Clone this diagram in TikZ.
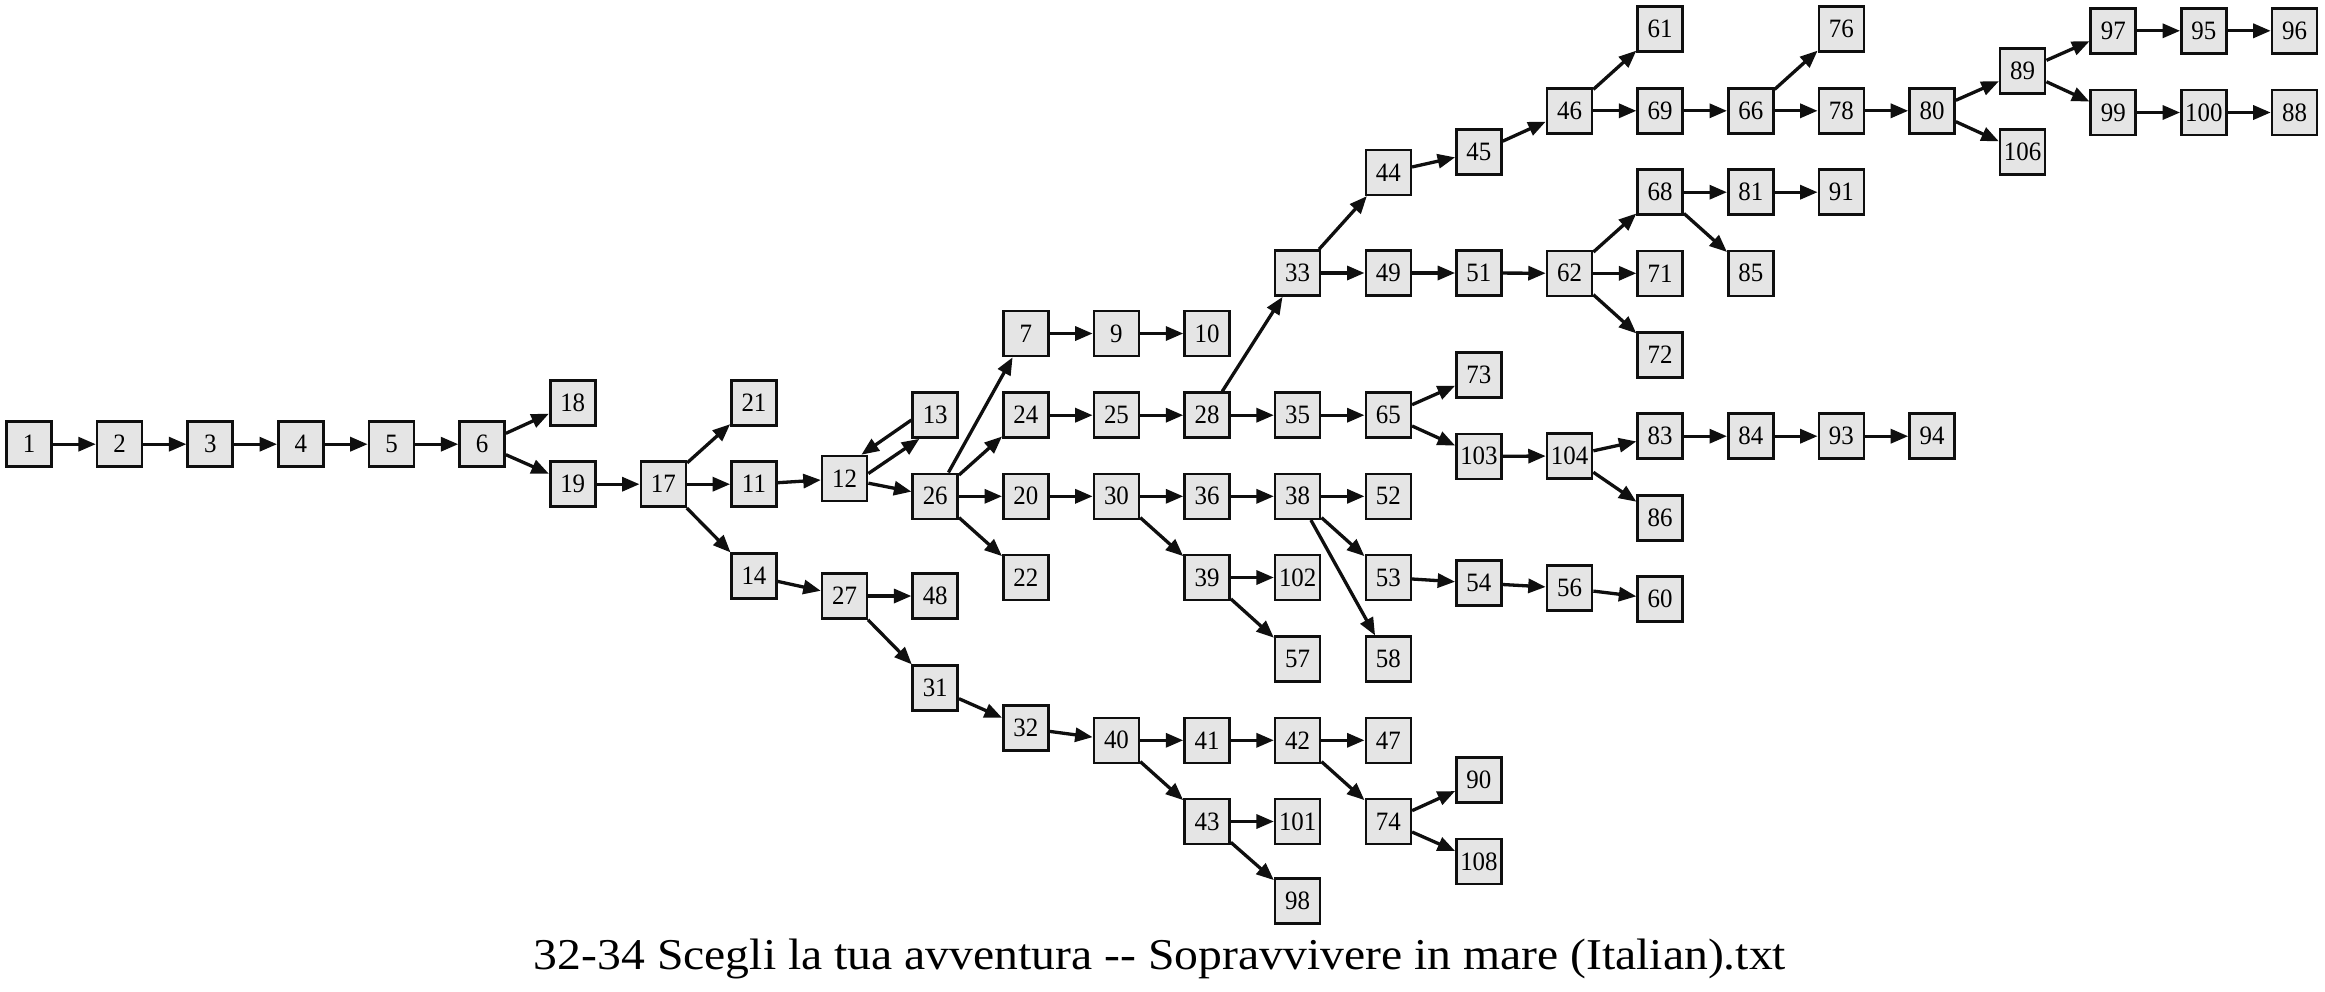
\documentclass[tikz,border=0pt]{standalone}
\usepackage{fontspec}
\setmainfont{Liberation Serif}[FakeStretch=0.94]
\newfontfamily\titlefont{Liberation Serif}
\usetikzlibrary{arrows.meta}
\definecolor{boxfill}{RGB}{229,229,229}
\definecolor{ink}{RGB}{15,15,15}
\tikzset{
  gbox/.style={draw=ink, fill=boxfill, line width=2.6pt, minimum width=45pt, minimum height=45pt,
    inner sep=0pt, outer sep=1.3pt, font=\fontsize{26.5}{26.5}\selectfont},
  gedge/.style={draw=ink, line width=3.3pt, -{Triangle[length=17.5pt,width=14pt]}},
  gtitle/.style={anchor=base, inner sep=0pt, font=\titlefont\fontsize{44}{44}\selectfont}
}
\newcommand\placenode[3]{\node[gbox] (n#1) at ({29+90.62*#2},#3) {#1};}
\begin{document}
\begin{tikzpicture}[x=1pt,y=-1pt]
\fill[white] (0,0) rectangle (2325,991);
\useasboundingbox (0,0) rectangle (2325,991);
\placenode{1}{0}{444.2}
\placenode{2}{1}{444.2}
\placenode{3}{2}{444.2}
\placenode{4}{3}{444.2}
\placenode{5}{4}{444.2}
\placenode{6}{5}{444.2}
\placenode{18}{6}{402.8}
\placenode{19}{6}{484.2}
\placenode{17}{7}{484.2}
\placenode{21}{8}{402.8}
\placenode{11}{8}{484.2}
\placenode{14}{8}{576.2}
\placenode{12}{9}{478.5}
\placenode{27}{9}{596}
\placenode{13}{10}{415}
\placenode{26}{10}{496.3}
\placenode{48}{10}{596}
\placenode{31}{10}{688.2}
\placenode{7}{11}{333.5}
\placenode{24}{11}{415.2}
\placenode{20}{11}{496.3}
\placenode{22}{11}{577.5}
\placenode{32}{11}{728.2}
\placenode{9}{12}{333.5}
\placenode{25}{12}{415.2}
\placenode{30}{12}{496.3}
\placenode{40}{12}{740.3}
\placenode{10}{13}{333.5}
\placenode{28}{13}{415.2}
\placenode{36}{13}{496.3}
\placenode{39}{13}{577.5}
\placenode{41}{13}{740.3}
\placenode{43}{13}{821.5}
\placenode{33}{14}{273}
\placenode{35}{14}{415.2}
\placenode{38}{14}{496.3}
\placenode{102}{14}{577.5}
\placenode{57}{14}{659.2}
\placenode{42}{14}{740.3}
\placenode{101}{14}{821.5}
\placenode{98}{14}{901}
\placenode{44}{15}{172.3}
\placenode{49}{15}{273}
\placenode{65}{15}{415.2}
\placenode{52}{15}{496.3}
\placenode{53}{15}{577.5}
\placenode{58}{15}{659.2}
\placenode{47}{15}{740.3}
\placenode{74}{15}{821.5}
\placenode{45}{16}{152}
\placenode{51}{16}{273}
\placenode{73}{16}{375.2}
\placenode{103}{16}{456.3}
\placenode{54}{16}{583.2}
\placenode{90}{16}{780.2}
\placenode{108}{16}{861.5}
\placenode{46}{17}{110.8}
\placenode{62}{17}{273.3}
\placenode{104}{17}{456}
\placenode{56}{17}{588.2}
\placenode{61}{18}{29.2}
\placenode{69}{18}{110.8}
\placenode{68}{18}{192.2}
\placenode{71}{18}{273.3}
\placenode{72}{18}{354.8}
\placenode{83}{18}{436.2}
\placenode{86}{18}{518}
\placenode{60}{18}{599.2}
\placenode{66}{19}{110.8}
\placenode{81}{19}{192.2}
\placenode{85}{19}{273.3}
\placenode{84}{19}{436.2}
\placenode{76}{20}{29.2}
\placenode{78}{20}{110.8}
\placenode{91}{20}{192.2}
\placenode{93}{20}{436.2}
\placenode{80}{21}{110.8}
\placenode{94}{21}{436.2}
\placenode{89}{22}{70.8}
\placenode{106}{22}{152.2}
\placenode{97}{23}{30.8}
\placenode{99}{23}{112.5}
\placenode{95}{24}{30.8}
\placenode{100}{24}{112.5}
\placenode{96}{25}{30.8}
\placenode{88}{25}{112.5}
\foreach \a/\b in {1/2,2/3,3/4,4/5,5/6,6/18,6/19,19/17,17/21,17/11,17/14,11/12,12/26,
  14/27,27/48,27/31,31/32,32/40,26/7,26/24,26/20,26/22,7/9,9/10,24/25,25/28,20/30,
  30/36,30/39,36/38,38/52,38/53,38/58,39/102,39/57,53/54,54/56,56/60,40/41,40/43,
  41/42,42/47,42/74,74/90,74/108,43/101,43/98,28/33,28/35,33/44,33/49,44/45,45/46,
  46/61,46/69,69/66,66/76,66/78,78/80,80/89,80/106,89/97,89/99,97/95,95/96,99/100,
  100/88,49/51,51/62,62/68,62/71,62/72,68/81,68/85,81/91,35/65,65/73,65/103,
  103/104,104/83,104/86,83/84,84/93,93/94}
  {\draw[gedge] (n\a) -- (n\b);}
\draw[gedge] ([yshift=-5pt]n13.west) -- ([xshift=-7pt]n12.north east);
\draw[gedge] ([yshift=5pt]n12.east) -- ([xshift=8pt]n13.south west);
\node[gtitle] (title) at (1160,969) {\resizebox{1252pt}{\height}{32-34 Scegli la tua avventura -{}- Sopravvivere in mare (Italian).txt}};
\end{tikzpicture}
\end{document}
